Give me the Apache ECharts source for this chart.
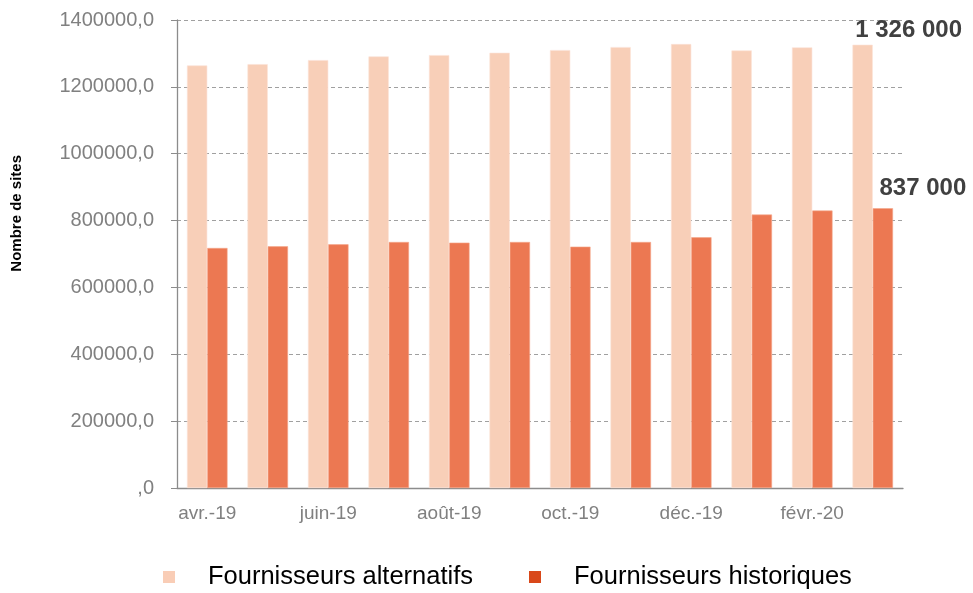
<!DOCTYPE html>
<html>
<head>
<meta charset="utf-8">
<script src="https://cdn.jsdelivr.net/npm/echarts@6/dist/echarts.min.js"></script>
<style>
  html, body { margin: 0; padding: 0; background: #fff; }
  #chart { width: 973px; height: 593px; }
</style>
</head>
<body>
<div id="chart"></div>
<script>
// months avr.-19 .. mars-20
const months = ["avr.-19", "mai-19", "juin-19", "juil.-19", "août-19", "sept.-19",
    "oct.-19", "nov.-19", "déc.-19", "janv.-20", "févr.-20", "mars-20"];
const alternatifs = [1264000, 1268000, 1280000, 1291000, 1295000, 1302000,
    1310000, 1319000, 1328000, 1309000, 1318000, 1326000];
const historiques = [718000, 723000, 729000, 736000, 734000, 736000,
    722000, 736000, 750000, 818000, 830000, 837000];
const yTicks = [0, 200000, 400000, 600000, 800000, 1000000, 1200000, 1400000];

let myChart = echarts.init(document.getElementById("chart"));

const lastIdx = months.length - 1;
const fmtThousands = function (v) {
    return String(v).replace(/\B(?=(\d{3})+(?!\d))/g, " ");
};
const endLabel = function (offset) {
    return {
        show: true,
        position: "top",
        offset: offset,
        fontFamily: "Liberation Sans",
        fontWeight: "bold",
        fontSize: 24,
        color: "#404040",
        formatter: function (p) { return fmtThousands(p.value); }
    };
};

let option = {
    animation: false,
    grid: { left: 177, right: 70, top: 20, bottom: 105, outerBoundsMode: "none", containLabel: false },
    graphic: [{
        type: "text",
        left: 9,
        top: 155,
        rotation: Math.PI / 2,
        style: {
            text: "Nombre de sites",
            fontFamily: "Liberation Sans",
            fontWeight: "bold",
            fontSize: 15,
            fill: "#000"
        }
    }],
    legend: {
        bottom: -2,
        left: 158,
        itemWidth: 12,
        itemHeight: 12,
        itemGap: 56,
        icon: "rect",
        textStyle: {
            fontFamily: "Liberation Sans",
            fontSize: 25.5,
            color: "#000",
            padding: [0, 0, 0, 28]
        },
        data: [
            { name: "Fournisseurs alternatifs", itemStyle: { color: "#F9CDB6", borderWidth: 0 } },
            { name: "Fournisseurs historiques", itemStyle: { color: "#D9481A", borderWidth: 0 } }
        ]
    },
    xAxis: {
        type: "category",
        data: months,
        axisLine: { lineStyle: { color: "#8c8c8c", width: 1.3 } },
        axisTick: { interval: 1, length: 6, lineStyle: { color: "#8c8c8c" } },
        axisLabel: {
            interval: 1,
            color: "#808080",
            fontFamily: "Liberation Sans",
            fontSize: 19,
            margin: 16
        }
    },
    yAxis: {
        type: "value",
        min: yTicks[0],
        max: yTicks[yTicks.length - 1],
        interval: yTicks[1] - yTicks[0],
        axisLine: { show: true, lineStyle: { color: "#8c8c8c", width: 1.3 } },
        axisTick: { show: true, length: 6, lineStyle: { color: "#8c8c8c" } },
        axisLabel: {
            color: "#808080",
            fontFamily: "Liberation Sans",
            fontSize: 20,
            margin: 23,
            formatter: function (v) { return (v === 0 ? "" : v) + ",0"; }
        },
        splitLine: { lineStyle: { color: "#a0a0a0", type: [4, 3], width: 1 } }
    },
    series: [
        {
            name: "Fournisseurs alternatifs",
            type: "bar",
            barGap: "0%",
            barCategoryGap: "33%",
            itemStyle: { color: "#F8CFB8", borderColor: "#FBE3D6", borderWidth: 0.6 },
            data: alternatifs.map(function (v, i) {
                return i === lastIdx ? { value: v, label: endLabel([46, 3]) } : v;
            })
        },
        {
            name: "Fournisseurs historiques",
            type: "bar",
            itemStyle: { color: "#EC7852", borderColor: "#F5A88C", borderWidth: 0.6 },
            data: historiques.map(function (v, i) {
                return i === lastIdx ? { value: v, label: endLabel([40, -3]) } : v;
            })
        }
    ]
};

myChart.setOption(option);
</script>
</body>
</html>
